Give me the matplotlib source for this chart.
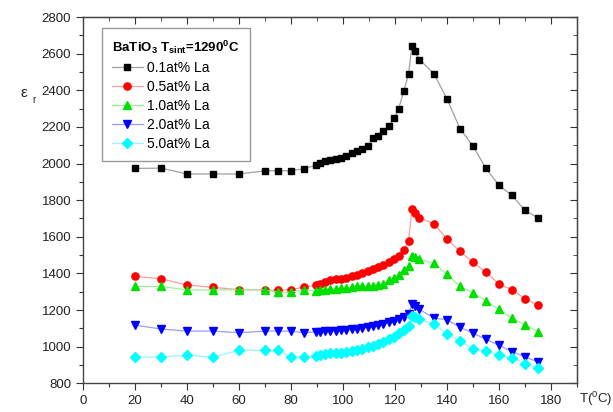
"""
Dielectric permittivity vs temperature, La-doped BaTiO3 (Tsint = 1290 C).
Output: out.png
"""
import matplotlib
matplotlib.use("Agg")
import matplotlib.pyplot as plt
from matplotlib.ticker import MultipleLocator

plt.rcParams.update({
    "font.family": "Liberation Sans",
    "mathtext.fontset": "custom",
    "mathtext.rm": "Liberation Sans",
    "mathtext.bf": "Liberation Sans:bold",
    "font.size": 9,
})

# temperatures (C)
T = [20, 30, 40, 50, 60, 70, 75, 80, 85,
     89.5, 91.3, 93.2, 95, 97.3, 99.2, 101.2, 103.5, 105.3, 107.3, 109.5,
     111.4, 113.4, 115.5, 117.5, 119.6, 121.4, 123.4, 125.2,
     126.5, 127.5, 129.4, 135, 140, 145, 150, 155, 160, 165, 170, 175]

eps_01 = [1973, 1975, 1943, 1943, 1943, 1960, 1960, 1960, 1972,
          1990, 2003, 2015, 2020, 2023, 2028, 2040, 2055, 2067, 2080, 2095,
          2137, 2150, 2178, 2206, 2246, 2299, 2396, 2490,
          2641, 2612, 2568, 2490, 2352, 2191, 2095, 1973, 1880, 1826, 1744, 1702]
eps_05 = [1384, 1370, 1337, 1324, 1311, 1310, 1308, 1311, 1326,
          1335, 1344, 1351, 1362, 1370, 1370, 1375, 1388, 1393, 1403, 1412,
          1425, 1436, 1448, 1463, 1476, 1494, 1530, 1576,
          1753, 1731, 1704, 1671, 1587, 1520, 1461, 1405, 1342, 1311, 1262, 1226]
eps_10 = [1329, 1329, 1310, 1310, 1310, 1310, 1297, 1297, 1311,
          1306, 1311, 1311, 1315, 1315, 1320, 1320, 1326, 1329, 1329, 1329,
          1333, 1338, 1344, 1362, 1375, 1393, 1420, 1442,
          1497, 1488, 1477, 1456, 1395, 1329, 1293, 1250, 1203, 1156, 1119, 1082]
eps_20 = [1118, 1096, 1085, 1085, 1076, 1085, 1085, 1085, 1076,
          1080, 1082, 1084, 1086, 1088, 1090, 1093, 1096, 1099, 1103, 1107,
          1112, 1118, 1124, 1132, 1140, 1150, 1162, 1178,
          1235, 1222, 1203, 1156, 1147, 1106, 1074, 1040, 1007, 973, 944, 916]
eps_50 = [943, 943, 954, 943, 980, 980, 980, 943, 943,
          951, 955, 960, 964, 968, 968, 973, 979, 982, 988, 997,
          1004, 1015, 1028, 1041, 1055, 1074, 1092, 1114,
          1169, 1160, 1150, 1125, 1070, 1030, 987, 976, 953, 939, 908, 882]

LABELS = ["0.1at% La", "0.5at% La", "1.0at% La", "2.0at% La", "5.0at% La"]
MARKERS = ["s", "o", "^", "v", "D"]
MCOLORS = ["#000000", "#ff0000", "#00e000", "#0000ff", "#00ffff"]
LCOLORS = ["#a0a0a0", "#ff9c9c", "#9cf09c", "#9c9cff", "#9cf4f4"]
MSIZES = [4.6, 5.2, 5.6, 5.6, 4.8]

fig = plt.figure(figsize=(6.13, 4.12), dpi=100)
ax = fig.add_axes([0.1354, 0.0697, 0.8059, 0.889])

for y, lab, m, mc, lc, ms in zip([eps_01, eps_05, eps_10, eps_20, eps_50],
                                 LABELS, MARKERS, MCOLORS, LCOLORS, MSIZES):
    ax.plot(T, y, color=lc, lw=0.9, marker=m, ms=ms, mfc=mc, mec=mc,
            label=lab)

ax.set_xlim(0, 190)
ax.set_ylim(800, 2800)
ax.xaxis.set_major_locator(MultipleLocator(20))
ax.xaxis.set_minor_locator(MultipleLocator(10))
ax.yaxis.set_major_locator(MultipleLocator(200))
ax.yaxis.set_minor_locator(MultipleLocator(100))
ax.set_xticks(range(0, 181, 20))
ax.tick_params(which="major", direction="out", length=5, width=0.8,
               labelsize=9.5, colors="#333333", labelcolor="#222222")
ax.tick_params(which="minor", direction="out", length=3, width=0.8,
               colors="#333333")
for s in ax.spines.values():
    s.set_linewidth(1.0)
    s.set_color("#444444")

# mirrored ticks on top / right, pointing inwards
top = ax.secondary_xaxis("top")
top.xaxis.set_major_locator(MultipleLocator(20))
top.xaxis.set_minor_locator(MultipleLocator(10))
top.tick_params(which="both", direction="in", labeltop=False, colors="#333333")
top.tick_params(which="major", length=5)
top.tick_params(which="minor", length=3)
right = ax.secondary_yaxis("right")
right.yaxis.set_major_locator(MultipleLocator(200))
right.yaxis.set_minor_locator(MultipleLocator(100))
right.tick_params(which="both", direction="in", labelright=False, colors="#333333")
right.tick_params(which="major", length=5)
right.tick_params(which="minor", length=3)

fig.text(0.034, 0.765, "ε", fontsize=11, color="#222222")
fig.text(0.052, 0.750, "r", fontsize=7, color="#222222")
fig.text(0.944, 0.022, r"T($^{\mathregular{0}}$C)", fontsize=9.5,
         color="#222222")

leg = ax.legend(loc="upper left", bbox_to_anchor=(0.038, 0.97),
                borderaxespad=0, fontsize=10, handlelength=2.2,
                labelspacing=0.36, fancybox=False, framealpha=1,
                edgecolor="#999999", borderpad=0.75, handletextpad=0.3,
                title=r"BaTiO$_\mathregular{3}$ T$_\mathregular{sint}$=1290$^\mathregular{0}$C",
                title_fontproperties={"weight": "bold", "size": 9.5})
leg._legend_box.align = "left"
leg.get_frame().set_linewidth(1.0)

fig.savefig("out.png", dpi=100)
